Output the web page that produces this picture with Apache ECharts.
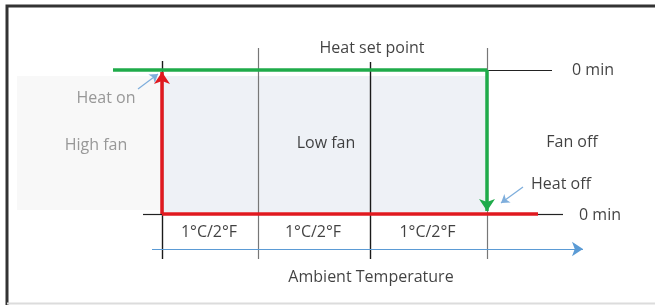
<!DOCTYPE html>
<html>
<head>
<meta charset="utf-8">
<script src="https://cdn.jsdelivr.net/npm/echarts@6/dist/echarts.min.js"></script>
<style>
  html, body { margin: 0; padding: 0; background: #fff; }
  #chart-container { width: 655px; height: 305px; }
</style>
</head>
<body>
<div id="chart-container"></div>
<script>
// diagram coordinates (x: left->right, y: top->bottom)
var stepEdges = [162, 258, 370, 487];
var edgeTops = [61, 48, 62, 48];
var edgeBottom = 259;
var stepLabels = ["1°C/2°F", "1°C/2°F", "1°C/2°F"];
var stepLabelY = 232;

var highFanZone = [[17, 76], [162, 210]];
var lowFanZone = [[163, 76], [486, 212]];

var heatSetLine = [[113, 70], [487, 70]];
var heatSetDrop = [[487, 70], [487, 211]];
var heatOnLine = [[538, 214], [162, 214]];
var heatOnRise = [[162, 214], [162, 72]];
var zeroLeaders = [
  [[487, 70], [552, 70]],
  [[538, 214], [563, 214]],
  [[143, 214], [162, 214]]
];
var tempAxis = [[152, 249], [583, 249]];
var callouts = [
  [[138, 89], [158, 74]],
  [[523, 187], [501, 203]]
];

var blackTexts = [
  ["Heat set point", 372, 48],
  ["0 min", 593, 70],
  ["0 min", 600, 215],
  ["Low fan", 326, 143],
  ["Fan off", 572, 142],
  ["Heat off", 561, 184],
  ["Ambient Temperature", 371, 277]
];
var grayTexts = [
  ["Heat on", 106, 98],
  ["High fan", 96, 145]
];

var dom = document.getElementById("chart-container");
var myChart = echarts.init(dom, null, { renderer: "canvas" });

var fontFamily = "Open Sans";

function seg(list) {
  return list.map(function (s) { return { coords: s }; });
}

function textSeries(items, color) {
  return {
    type: "scatter",
    symbolSize: 0,
    silent: true,
    z: 10,
    label: {
      show: true,
      position: "inside",
      formatter: "{b}",
      color: color,
      fontSize: 16,
      fontFamily: fontFamily
    },
    data: items.map(function (t) { return { name: t[0], value: [t[1], t[2]] }; })
  };
}

var stepTexts = stepLabels.map(function (t, i) {
  return [t, (stepEdges[i] + stepEdges[i + 1]) / 2 - 1, stepLabelY];
});

var option = {
  animation: false,
  grid: { left: 0, right: 0, top: 0, bottom: 0 },
  xAxis: { type: "value", min: 0, max: 655, show: false },
  yAxis: { type: "value", min: 0, max: 305, inverse: true, show: false },
  graphic: [
    { type: "polyline", shape: { points: [[7, 305], [7, 6], [655, 6]] },
      style: { stroke: "#333", lineWidth: 3, fill: null } },
    { type: "line", shape: { x1: 7, y1: 303.5, x2: 655, y2: 303.5 },
      style: { stroke: "#dcdcdc", lineWidth: 2 } }
  ],
  series: [
    {
      type: "line",
      data: [],
      silent: true,
      markArea: {
        silent: true,
        data: [
          [{ coord: highFanZone[0], itemStyle: { color: "#f8f8f8" } }, { coord: highFanZone[1] }],
          [{ coord: lowFanZone[0], itemStyle: { color: "#eef1f6" } }, { coord: lowFanZone[1] }]
        ]
      }
    },
    {
      type: "lines",
      coordinateSystem: "cartesian2d",
      silent: true,
      z: 3,
      lineStyle: { color: "#6e6e6e", width: 1.2, opacity: 1 },
      data: stepEdges.map(function (x, i) {
        return { coords: [[x, edgeTops[i]], [x, edgeBottom]],
          lineStyle: { color: i % 2 === 0 ? "#1a1a1a" : "#777", width: i % 2 === 0 ? 1.4 : 1.2 } };
      })
    },
    {
      type: "lines",
      coordinateSystem: "cartesian2d",
      silent: true,
      z: 3,
      lineStyle: { color: "#222", width: 1.2, opacity: 1 },
      data: seg(zeroLeaders)
    },
    {
      type: "lines",
      coordinateSystem: "cartesian2d",
      silent: true,
      z: 3,
      symbol: ["none", "arrow"],
      symbolSize: 11,
      lineStyle: { color: "#5b9bd5", width: 1.2, opacity: 1 },
      data: seg([tempAxis])
    },
    {
      type: "lines",
      coordinateSystem: "cartesian2d",
      silent: true,
      z: 3,
      symbol: ["none", "arrow"],
      symbolSize: 8,
      lineStyle: { color: "#7eaedc", width: 1.2, opacity: 1 },
      data: seg(callouts)
    },
    {
      type: "lines",
      coordinateSystem: "cartesian2d",
      silent: true,
      z: 4,
      lineStyle: { color: "#1fab4a", width: 3.5, opacity: 1 },
      data: seg([heatSetLine])
    },
    {
      type: "lines",
      coordinateSystem: "cartesian2d",
      silent: true,
      z: 4,
      symbol: ["none", "arrow"],
      symbolSize: 12,
      lineStyle: { color: "#1fab4a", width: 3.5, opacity: 1 },
      data: seg([heatSetDrop])
    },
    {
      type: "lines",
      coordinateSystem: "cartesian2d",
      silent: true,
      z: 5,
      lineStyle: { color: "#e0191f", width: 3.5, opacity: 1 },
      data: seg([heatOnLine])
    },
    {
      type: "lines",
      coordinateSystem: "cartesian2d",
      silent: true,
      z: 5,
      symbol: ["none", "arrow"],
      symbolSize: 12,
      lineStyle: { color: "#e0191f", width: 3.5, opacity: 1 },
      data: seg([heatOnRise])
    },
    textSeries(blackTexts.concat(stepTexts), "#111"),
    textSeries(grayTexts, "#808080")
  ]
};

myChart.setOption(option);
window.addEventListener("resize", myChart.resize);
</script>
</body>
</html>
